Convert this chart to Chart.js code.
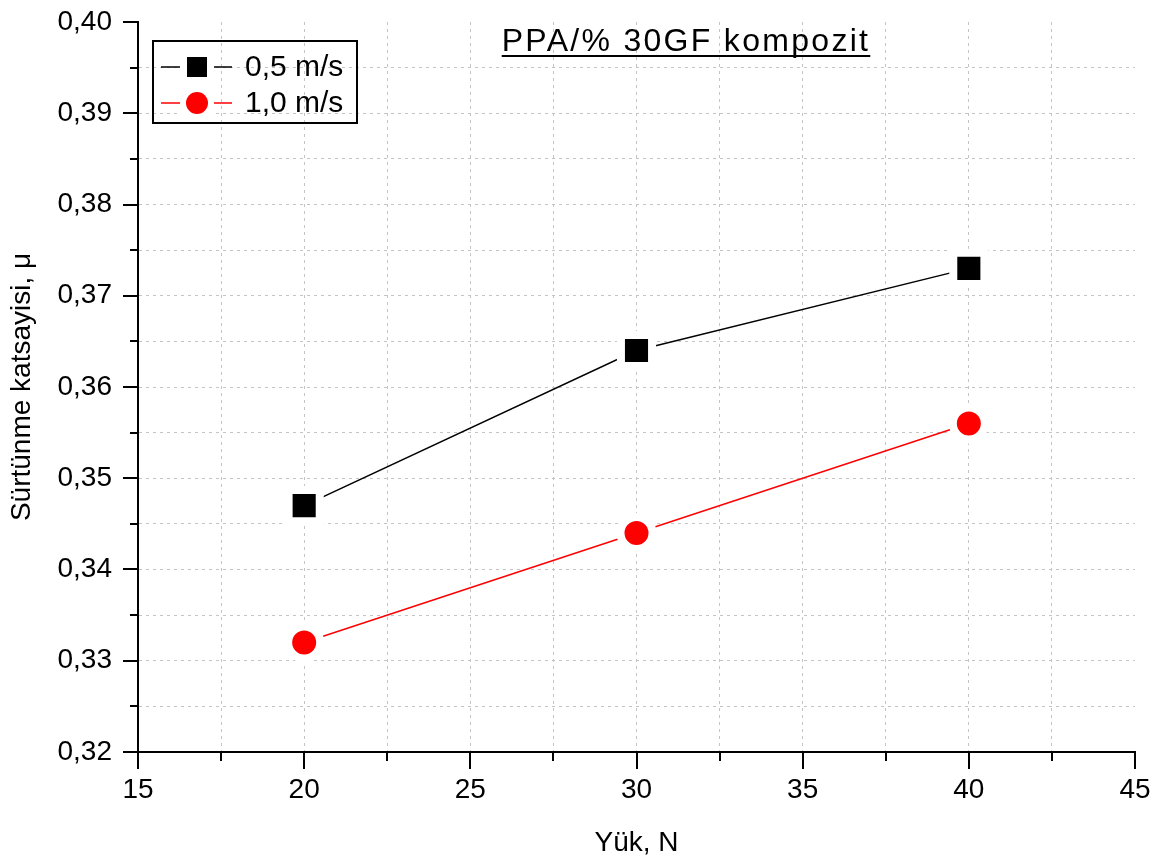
<!DOCTYPE html>
<html>
<head>
<meta charset="utf-8">
<script src="https://cdn.jsdelivr.net/npm/chart.js@4/dist/chart.umd.min.js"></script>
<style>
  html, body { margin: 0; padding: 0; background: #fff; }
  #wrap { width: 1158px; height: 863px; }
</style>
</head>
<body>
<div id="wrap"><canvas id="chart"></canvas></div>
<script>
var loads = [20, 30, 40];
var speed05 = [0.347, 0.364, 0.373];
var speed10 = [0.332, 0.344, 0.356];
var seriesNames = ["0,5 m/s", "1,0 m/s"];
var chartTitle = "PPA/% 30GF kompozit";
var xTitle = "Yük, N";
var yTitle = "Sürtünme katsayisi, μ";

var FONT = "'Liberation Sans', Arial, sans-serif";

function toPoints(xs, ys) {
    return xs.map(function (x, i) { return { x: x, y: ys[i] }; });
}

function gridColor(c) {
    var s = c.scale, v = c.tick ? c.tick.value : null;
    if (v === null) return 'rgba(0,0,0,0)';
    if (Math.abs(v - s.max) < 1e-9 || Math.abs(v - s.min) < 1e-9) return 'rgba(0,0,0,0)';
    return '#c4c4c4';
}

// tick marks (major / minor) drawn outwards like Origin
var tickMarks = {
    id: 'tickMarks',
    afterDraw: function (chart) {
        var ctx = chart.ctx, xs = chart.scales.x, ys = chart.scales.y;
        ctx.save();
        ctx.strokeStyle = '#000';
        ctx.lineWidth = 2;
        xs.ticks.forEach(function (t) {
            var px = Math.round(xs.getPixelForValue(t.value));
            var major = Math.abs(t.value % 5) < 1e-9;
            ctx.beginPath();
            ctx.moveTo(px, xs.top);
            ctx.lineTo(px, xs.top + (major ? 17 : 9));
            ctx.stroke();
        });
        ys.ticks.forEach(function (t) {
            var py = Math.round(ys.getPixelForValue(t.value));
            var major = Math.round(t.value * 1000) % 10 === 0;
            ctx.beginPath();
            ctx.moveTo(ys.right, py);
            ctx.lineTo(ys.right - (major ? 15 : 8), py);
            ctx.stroke();
        });
        ctx.restore();
    }
};

// underlined title and boxed legend
var decorations = {
    id: 'decorations',
    afterDraw: function (chart) {
        var ctx = chart.ctx;
        ctx.save();
        ctx.fillStyle = '#000';
        ctx.font = '32px ' + FONT;
        if ('letterSpacing' in ctx) ctx.letterSpacing = '2.3px';
        ctx.textBaseline = 'alphabetic';
        ctx.textAlign = 'left';
        var w = ctx.measureText(chartTitle).width;
        var tx = 686 - w / 2;
        ctx.fillText(chartTitle, tx, 51);
        ctx.fillRect(tx, 55, w, 2);
        if ('letterSpacing' in ctx) ctx.letterSpacing = '0px';

        // legend box
        ctx.strokeStyle = '#000';
        ctx.lineWidth = 2;
        ctx.strokeRect(153, 41, 204, 82);
        var rows = [
            { y: 67, color: '#000', style: 'rect', label: seriesNames[0] },
            { y: 103, color: '#ff0000', style: 'circle', label: seriesNames[1] }
        ];
        rows.forEach(function (r) {
            ctx.strokeStyle = r.color;
            ctx.lineWidth = 1.5;
            ctx.beginPath();
            ctx.moveTo(161, r.y);
            ctx.lineTo(232, r.y);
            ctx.stroke();
            ctx.fillStyle = '#fff';
            ctx.fillRect(180, r.y - 15, 34, 30);
            ctx.fillStyle = r.color;
            if (r.style === 'rect') {
                ctx.fillRect(187, r.y - 10, 20, 20);
            } else {
                ctx.beginPath();
                ctx.arc(197, r.y, 11, 0, Math.PI * 2);
                ctx.fill();
            }
            ctx.fillStyle = '#000';
            ctx.font = '30px ' + FONT;
            ctx.textBaseline = 'middle';
            ctx.fillText(r.label, 245, r.y + 1);
        });
        ctx.restore();
    }
};

new Chart(document.getElementById('chart'), {
    type: 'scatter',
    data: {
        datasets: [{
            label: seriesNames[0],
            data: toPoints(loads, speed05),
            showLine: true,
            borderColor: '#000',
            borderWidth: 1.5,
            pointStyle: 'rect',
            pointRadius: 22,
            pointBackgroundColor: '#000',
            pointBorderColor: '#fff',
            pointBorderWidth: 8
        }, {
            label: seriesNames[1],
            data: toPoints(loads, speed10),
            showLine: true,
            borderColor: '#ff0000',
            borderWidth: 1.5,
            pointStyle: 'circle',
            pointRadius: 16,
            pointBackgroundColor: '#ff0000',
            pointBorderColor: '#fff',
            pointBorderWidth: 8
        }]
    },
    options: {
        responsive: true,
        maintainAspectRatio: false,
        animation: false,
        events: [],
        layout: { autoPadding: false, padding: { top: 22, right: 23, left: 0, bottom: 0 } },
        plugins: {
            legend: { display: false },
            tooltip: { enabled: false }
        },
        scales: {
            x: {
                type: 'linear',
                min: 15, max: 45,
                afterFit: function (s) {
                    s.height = 111;
                    s.paddingLeft = 0; s.paddingRight = 0;
                },
                border: { display: true, color: '#000', width: 2, dash: [3, 4] },
                grid: { color: gridColor, lineWidth: 1, drawTicks: false },
                ticks: {
                    stepSize: 2.5,
                    padding: 21,
                    autoSkip: false,
                    maxRotation: 0,
                    color: '#000',
                    font: { family: FONT, size: 28 },
                    callback: function (v) { return Math.abs(v % 5) < 1e-9 ? String(v) : ''; }
                },
                title: {
                    display: true, text: xTitle, color: '#000',
                    font: { family: FONT, size: 28 },
                    padding: { top: 0, bottom: 3 }
                }
            },
            y: {
                type: 'linear',
                min: 0.32, max: 0.40,
                afterFit: function (s) {
                    s.width = 138;
                    s.paddingTop = 0; s.paddingBottom = 0;
                },
                border: { display: true, color: '#000', width: 2, dash: [3, 4] },
                grid: { color: gridColor, lineWidth: 1, drawTicks: false },
                ticks: {
                    stepSize: 0.005,
                    padding: 26,
                    autoSkip: false,
                    color: '#000',
                    font: { family: FONT, size: 28 },
                    callback: function (v) {
                        return Math.round(v * 1000) % 10 === 0 ? v.toFixed(2).replace('.', ',') : '';
                    }
                },
                title: {
                    display: true, text: yTitle, color: '#000',
                    font: { family: FONT, size: 28 },
                    padding: { top: 5, bottom: 0 }
                }
            }
        }
    },
    plugins: [tickMarks, decorations]
});
</script>
</body>
</html>
